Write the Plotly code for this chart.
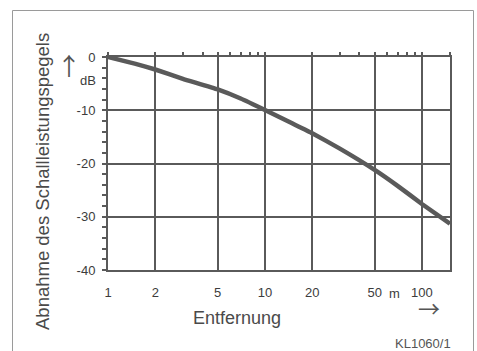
import plotly.graph_objects as go
import math

# Data
distance_m = [1, 1.5, 2, 3, 5, 7, 10, 15, 20, 30, 50, 70, 100, 151]
attenuation_db = [0, -1.3, -2.35, -4.1, -6.1, -7.8, -9.95, -12.5, -14.3, -17.2, -21.2, -24.2, -27.6, -31.3]
x_tickvals = [1, 2, 5, 10, 20, 50, 100]
x_ticktext = ["1", "2", "5", "10", "20", "50", "100"]
top_minor_ticks = [1, 2, 3, 4, 5, 6, 7, 8, 9, 10, 20, 30, 40, 50, 60, 70, 80, 90, 100, 151]
y_tickvals = [0, -10, -20, -30, -40]
y_ticktext = ["0", "-10", "-20", "-30", "-40"]

W, H = 477, 351
L, R, T, B = 108, 27, 57, 81
pw, ph = W - L - R, H - T - B

def px(x):
    return (x - L) / pw

def py(y):
    return (H - B - y) / ph

line_col = "#5a5a5a"
txt_col = "#3c3c3c"
font = "Liberation Sans, Arial, Helvetica, sans-serif"
arrow_font = "Noto Sans CJK JP, sans-serif"

xr = [0, math.log10(151)]

fig = go.Figure()
fig.add_trace(go.Scatter(
    x=distance_m, y=attenuation_db, mode="lines",
    line=dict(color=line_col, width=4.5, shape="spline", smoothing=0.3),
    hoverinfo="skip", showlegend=False,
))
# invisible trace for top tick axis
fig.add_trace(go.Scatter(
    x=[1, 151], y=[0, 0], xaxis="x2", mode="markers",
    marker=dict(opacity=0), hoverinfo="skip", showlegend=False,
))

fig.update_layout(
    width=W, height=H,
    margin=dict(l=L, r=R, t=T, b=B, pad=0),
    paper_bgcolor="white", plot_bgcolor="white",
    font=dict(family=font, color=txt_col, size=13),
    xaxis=dict(
        type="log", range=xr, tickvals=x_tickvals, ticktext=x_ticktext,
        showgrid=True, gridcolor=line_col, gridwidth=2,
        showline=True, linecolor=line_col, linewidth=2, mirror=True,
        ticks="", ticklabelstandoff=9, zeroline=False,
        tickfont=dict(size=13, color=txt_col),
    ),
    xaxis2=dict(
        type="log", range=xr, overlaying="x", side="top", anchor="y",
        tickvals=top_minor_ticks, showticklabels=False,
        ticks="outside", ticklen=4, tickwidth=2, tickcolor=line_col,
        showgrid=False, showline=False, zeroline=False,
    ),
    yaxis=dict(
        range=[-40, 0], tickvals=y_tickvals, ticktext=y_ticktext,
        showgrid=True, gridcolor=line_col, gridwidth=2,
        showline=True, linecolor=line_col, linewidth=2, mirror=True,
        ticks="outside", ticklen=4, tickwidth=2, tickcolor=line_col,
        minor=dict(dtick=2, ticks="outside", ticklen=4, tickwidth=2, tickcolor=line_col, showgrid=False),
        zeroline=False, ticklabelstandoff=4,
        tickfont=dict(size=13, color=txt_col),
    ),
    showlegend=False,
)

# outer frame (left, top, right sides)
fig.add_shape(type="path", xref="paper", yref="paper",
              path=f"M {px(12.5)} {py(360)} L {px(12.5)} {py(10.5)} L {px(473.5)} {py(10.5)} L {px(473.5)} {py(360)}",
              line=dict(color="#9a9a9a", width=1))

def ann(text, x, y, size=13, xanchor="center", yanchor="middle", angle=0, color=txt_col, family=font):
    fig.add_annotation(text=text, x=px(x), y=py(y), xref="paper", yref="paper",
                       showarrow=False, xanchor=xanchor, yanchor=yanchor, textangle=angle,
                       font=dict(family=family, size=size, color=color))

ann("dB", 98, 80, size=13, xanchor="right")
ann("↑", 69, 64, size=24, family=arrow_font, color="#555555")
ann("m", 394, 293, size=13)
ann("→", 429, 307, size=22, family=arrow_font, color="#555555")
ann("Entfernung", 237, 318, size=18, color="#4a4a4a")
ann("Abnahme des Schallleistungspegels", 42, 182, size=18.5, angle=-90, color="#4a4a4a")
ann("KL1060/1", 453, 343, size=13, xanchor="right", color="#555555")

fig.write_html("out.html")
